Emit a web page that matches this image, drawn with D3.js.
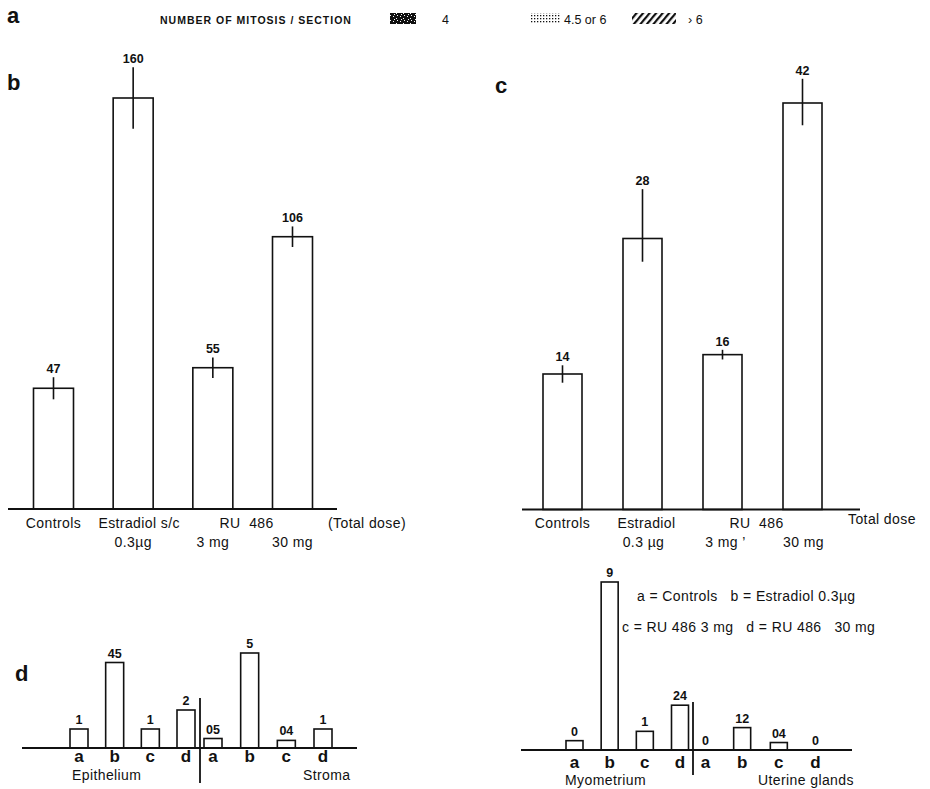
<!DOCTYPE html>
<html>
<head>
<meta charset="utf-8">
<script src="https://cdn.jsdelivr.net/npm/d3@7"></script>
<style>
  body { margin: 0; background: #fff; }
  svg { display: block; }
  text { font-family: "Liberation Sans", Arial, Helvetica, sans-serif; fill: #111; white-space: pre; }
  .bar { fill: #fff; stroke: #111; stroke-width: 1.6; }
  .axis { stroke: #111; stroke-width: 1.8; }
  .err { stroke: #111; stroke-width: 1.6; }
  .val { font-weight: bold; font-size: 12.5px; text-anchor: middle; }
  .cat { font-size: 14px; letter-spacing: 0.4px; }
  .panel { font-weight: bold; font-size: 22px; }
  .abcd { font-weight: bold; font-size: 17px; text-anchor: middle; }
</style>
</head>
<body>
<script>
// ---- data ----
// panel b : mitoses per section (total dose)
const catsB = ["Controls", "Estradiol", "RU3", "RU30"]
const valuesB = [47, 160, 55, 106]
const errUpB = [4.3, 12, 4, 4]
const errDownB = [4.3, 12, 4, 4]
const labelsB = ["47", "160", "55", "106"]

// panel c (the estradiol whisker is longer upwards in the figure)
const catsC = ["Controls", "Estradiol", "RU3", "RU30"]
const valuesC = [14, 28, 16, 42]
const errUpC = [0.9, 5.1, 0.5, 2.5]
const errDownC = [0.9, 2.4, 0.5, 2.3]
const labelsC = ["14", "28", "16", "42"]

// panel d, letters a..d
const letters = ["a", "b", "c", "d"]
const epithelium = [1, 4.5, 1, 2]
const epitheliumLabels = ["1", "45", "1", "2"]
const stroma = [0.5, 5, 0.4, 1]
const stromaLabels = ["05", "5", "04", "1"]
const myometrium = [0.5, 9, 1, 2.4]
const myometriumLabels = ["0", "9", "1", "24"]
const glands = [0, 1.2, 0.4, 0]
const glandsLabels = ["0", "12", "04", "0"]

// legend of panel a
const legendItems = [
    {pattern: "speck", text: "4"},
    {pattern: "dots", text: "4.5 or 6"},
    {pattern: "hatch", text: "› 6"}
]

const W = 930, H = 789

let svg = d3.select("body").append("svg")
    .attr("width", W)
    .attr("height", H)

// ---- fill patterns for the legend ----
let defs = svg.append("defs")

let speck = defs.append("pattern").attr("id", "speck")
    .attr("patternUnits", "userSpaceOnUse").attr("width", 7).attr("height", 5)
speck.append("rect").attr("width", 7).attr("height", 5).attr("fill", "#111")
for (let p of [[1, 1], [4, 3], [5, 0], [2, 4]]) {
    speck.append("rect").attr("x", p[0]).attr("y", p[1])
        .attr("width", 1).attr("height", 1).attr("fill", "#fff")
}

let dots = defs.append("pattern").attr("id", "dots")
    .attr("patternUnits", "userSpaceOnUse").attr("width", 3).attr("height", 3)
dots.append("rect").attr("width", 1.3).attr("height", 1.3).attr("fill", "#111")

let hatch = defs.append("pattern").attr("id", "hatch")
    .attr("patternUnits", "userSpaceOnUse").attr("width", 5).attr("height", 5)
    .attr("patternTransform", "rotate(40)")
hatch.append("rect").attr("width", 2.2).attr("height", 5).attr("fill", "#111")

// ---- panel a : legend ----
svg.append("text").attr("class", "panel").attr("x", 7).attr("y", 23).text("a")
svg.append("text")
    .attr("x", 160).attr("y", 24)
    .style("font-size", "10.5px")
    .style("font-weight", "bold")
    .style("letter-spacing", "1px")
    .text("NUMBER OF MITOSIS / SECTION")

let legendX = d3.scaleOrdinal()
    .domain(legendItems.map(d => d.pattern))
    .range([[390, 26, 442], [530, 31, 564], [632, 44, 688]])

let leg = svg.selectAll("g.leg").data(legendItems).enter().append("g").attr("class", "leg")
leg.append("rect")
    .attr("x", d => legendX(d.pattern)[0])
    .attr("y", 13)
    .attr("width", d => legendX(d.pattern)[1])
    .attr("height", 11)
    .attr("fill", d => "url(#" + d.pattern + ")")
leg.append("text")
    .attr("x", d => legendX(d.pattern)[2])
    .attr("y", 24)
    .style("font-size", "12.5px")
    .text(d => d.text)

/**
 * draws one big bar panel with error bars and value labels
 */
function bigPanel(cats, values, errUp, errDown, labels, xRange, yBase, yTop, yMax, barW, lineX) {
    let x = d3.scalePoint().domain(cats).range(xRange)
    let y = d3.scaleLinear().domain([0, yMax]).range([yBase, yTop])

    let g = svg.append("g")
    let rows = cats.map((c, i) => ({cat: c, v: values[i], up: errUp[i], down: errDown[i], lab: labels[i]}))

    g.selectAll("rect").data(rows).enter().append("rect")
        .attr("class", "bar")
        .attr("x", d => x(d.cat) - barW / 2)
        .attr("y", d => y(d.v))
        .attr("width", barW)
        .attr("height", d => yBase - y(d.v))

    g.selectAll("line.err").data(rows).enter().append("line")
        .attr("class", "err")
        .attr("x1", d => x(d.cat)).attr("x2", d => x(d.cat))
        .attr("y1", d => y(d.v + d.up)).attr("y2", d => y(d.v - d.down))

    g.selectAll("text.val").data(rows).enter().append("text")
        .attr("class", "val")
        .attr("x", d => x(d.cat))
        .attr("y", d => y(d.v + d.up) - 4)
        .text(d => d.lab)

    g.append("line").attr("class", "axis")
        .attr("x1", lineX[0]).attr("x2", lineX[1])
        .attr("y1", yBase).attr("y2", yBase)
    return x
}

// ---- panel b ----
svg.append("text").attr("class", "panel").attr("x", 7).attr("y", 90).text("b")
let xb = bigPanel(catsB, valuesB, errUpB, errDownB, labelsB, [53.5, 292.5], 509, 98, 160, 40, [8, 337])

let catB = svg.append("g").attr("class", "cat")
catB.append("text").attr("x", xb("Controls")).attr("y", 528).attr("text-anchor", "middle").text("Controls")
catB.append("text").attr("x", xb("Estradiol") + 6).attr("y", 528).attr("text-anchor", "middle").text("Estradiol s/c")
catB.append("text").attr("x", (xb("RU3") + xb("RU30")) / 2 - 6).attr("y", 528).attr("text-anchor", "middle").text("RU  486")
catB.append("text").attr("x", 328).attr("y", 528).text("(Total dose)")
catB.append("text").attr("x", xb("Estradiol")).attr("y", 547).attr("text-anchor", "middle").text("0.3µg")
catB.append("text").attr("x", xb("RU3")).attr("y", 547).attr("text-anchor", "middle").text("3 mg")
catB.append("text").attr("x", xb("RU30")).attr("y", 547).attr("text-anchor", "middle").text("30 mg")

// ---- panel c ----
svg.append("text").attr("class", "panel").attr("x", 495).attr("y", 93).text("c")
let xc = bigPanel(catsC, valuesC, errUpC, errDownC, labelsC, [562.5, 802.5], 509.5, 103, 42, 39, [522, 860])

let catC = svg.append("g").attr("class", "cat")
catC.append("text").attr("x", xc("Controls")).attr("y", 528).attr("text-anchor", "middle").text("Controls")
catC.append("text").attr("x", xc("Estradiol") + 4).attr("y", 528).attr("text-anchor", "middle").text("Estradiol")
catC.append("text").attr("x", (xc("RU3") + xc("RU30")) / 2 - 6).attr("y", 528).attr("text-anchor", "middle").text("RU  486")
catC.append("text").attr("x", 848).attr("y", 524).text("Total dose")
catC.append("text").attr("x", xc("Estradiol") + 1).attr("y", 547).attr("text-anchor", "middle").text("0.3 µg")
catC.append("text").attr("x", xc("RU3") + 3).attr("y", 547).attr("text-anchor", "middle").text("3 mg ’")
catC.append("text").attr("x", xc("RU30") + 1).attr("y", 547).attr("text-anchor", "middle").text("30 mg")

/**
 * small bars of panel d, one tissue group
 */
function smallGroup(values, labels, xRange, y, yBase, barW, abcdY) {
    let x = d3.scalePoint().domain(letters).range(xRange)
    let rows = letters.map((l, i) => ({l: l, v: values[i], lab: labels[i]}))
    let g = svg.append("g")
    g.selectAll("rect").data(rows).enter().append("rect")
        .attr("class", "bar")
        .attr("x", d => x(d.l) - barW / 2)
        .attr("y", d => y(d.v))
        .attr("width", barW)
        .attr("height", d => yBase - y(d.v))
    g.selectAll("text.val").data(rows).enter().append("text")
        .attr("class", "val")
        .attr("x", d => x(d.l))
        .attr("y", d => y(d.v) - 5)
        .text(d => d.lab)
    g.selectAll("text.abcd").data(rows).enter().append("text")
        .attr("class", "abcd")
        .attr("x", d => x(d.l))
        .attr("y", abcdY)
        .text(d => d.l)
}

// ---- panel d, left ----
svg.append("text").attr("class", "panel").attr("x", 15).attr("y", 681).text("d")
let ydl = d3.scaleLinear().domain([0, 5]).range([748, 653])
smallGroup(epithelium, epitheliumLabels, [79, 186], ydl, 748, 18, 762)
smallGroup(stroma, stromaLabels, [213, 323], ydl, 748, 18, 762)
svg.append("line").attr("class", "axis").attr("x1", 22).attr("x2", 357).attr("y1", 748).attr("y2", 748)
svg.append("line").attr("class", "axis").attr("x1", 200).attr("x2", 200).attr("y1", 698).attr("y2", 783)
svg.append("text").attr("class", "cat").attr("x", 72).attr("y", 780).text("Epithelium")
svg.append("text").attr("class", "cat").attr("x", 303).attr("y", 780).text("Stroma")

// ---- panel d, right ----
let ydr = d3.scaleLinear().domain([0, 9]).range([750, 582])
smallGroup(myometrium, myometriumLabels, [574.5, 680], ydr, 750, 17, 768)
smallGroup(glands, glandsLabels, [705.5, 815.5], ydr, 750, 17, 768)
svg.append("line").attr("class", "axis").attr("x1", 521).attr("x2", 852).attr("y1", 750).attr("y2", 750)
svg.append("line").attr("class", "axis").attr("x1", 693).attr("x2", 693).attr("y1", 702).attr("y2", 775)
svg.append("text").attr("class", "cat").attr("x", 565).attr("y", 785).text("Myometrium")
svg.append("text").attr("class", "cat").attr("x", 758).attr("y", 785).text("Uterine glands")

svg.append("text").attr("class", "cat").attr("x", 637).attr("y", 601).text("a = Controls   b = Estradiol 0.3µg")
svg.append("text").attr("class", "cat").attr("x", 622).attr("y", 632).text("c = RU 486 3 mg   d = RU 486   30 mg")
</script>
</body>
</html>
